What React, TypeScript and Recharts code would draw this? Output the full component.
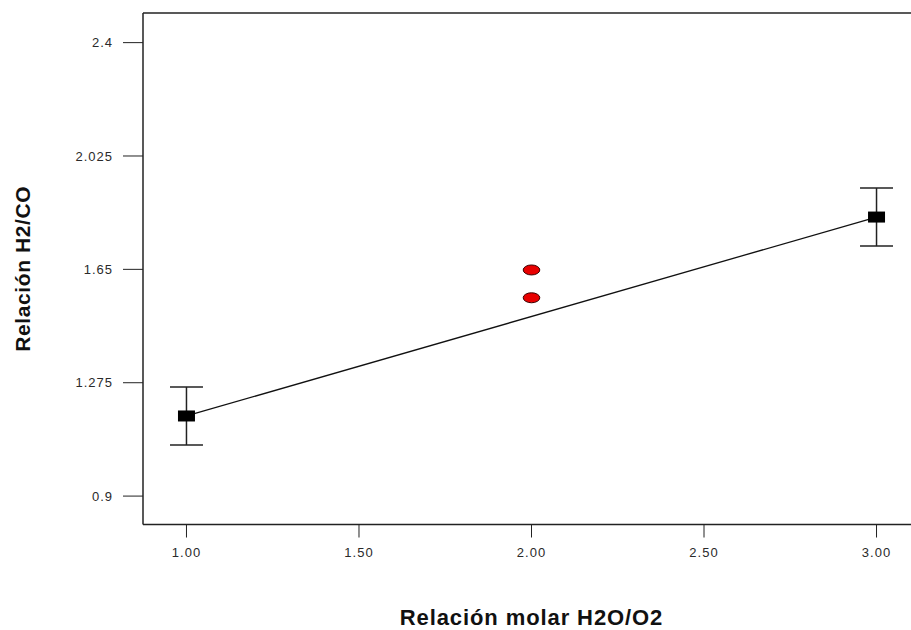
import React from 'react';
import {
  ComposedChart,
  XAxis,
  YAxis,
  Line,
  Scatter,
  ErrorBar,
  Label,
  ReferenceLine,
} from 'recharts';

// Molar ratio H2O/O2 levels and the fitted H2/CO response
const fitRatios = [1, 3];
const fitValues = [1.165, 1.823];
const fitErrors = [0.096, 0.096];

// Observed centre-point runs
const centreRatios = [2, 2];
const centreValues = [1.648, 1.556];

const xTicks = [1, 1.5, 2, 2.5, 3];
const yTicks = [0.9, 1.275, 1.65, 2.025, 2.4];

const xDomain: [number, number] = [0.874, 3.126];
const yDomain: [number, number] = [0.806, 2.498];

const fitData = fitRatios.map((x, i) => ({ x, y: fitValues[i], err: fitErrors[i] }));
const centreData = centreRatios.map((x, i) => ({ x, y: centreValues[i] }));

const FONT = '"Liberation Sans", Arial, sans-serif';
const tickStyle = { fontSize: 13, fill: '#2a2a2a', fontFamily: FONT, letterSpacing: 1 };

const SquareMarker = (props: any) => {
  const { cx, cy } = props;
  if (cx == null || cy == null) return null;
  return <rect x={cx - 8.5} y={cy - 5.5} width={17} height={11} fill="#000" />;
};

const EllipseMarker = (props: any) => {
  const { cx, cy } = props;
  if (cx == null || cy == null) return null;
  return <ellipse cx={cx} cy={cy} rx={8.3} ry={5} fill="#e80000" stroke="#3a0000" strokeWidth={1} />;
};

const XTitle = (props: any) => {
  const { viewBox } = props;
  const cx = viewBox.x + viewBox.width / 2;
  return (
    <text x={cx} y={625} textAnchor="middle" fontFamily={FONT} fontWeight="bold" fontSize={22} letterSpacing={0.9} fill="#111">
      Relación molar H2O/O2
    </text>
  );
};

const YTitle = (props: any) => {
  const { viewBox } = props;
  const cy = viewBox.y + viewBox.height / 2;
  return (
    <text
      x={30}
      y={cy}
      transform={`rotate(-90, 30, ${cy})`}
      textAnchor="middle"
      fontFamily={FONT}
      fontWeight="bold"
      fontSize={21}
      letterSpacing={0.6}
      fill="#111"
    >
      Relación H2/CO
    </text>
  );
};

export default function App() {
  return (
    <div style={{ position: 'absolute', left: 0, top: 0, width: 911, height: 630, overflow: 'hidden', background: '#fff' }}>
      <ComposedChart width={940} height={630} margin={{ top: 13, right: 20, bottom: 0, left: 0 }}>
        <XAxis
          type="number"
          dataKey="x"
          domain={xDomain}
          allowDataOverflow
          ticks={xTicks}
          tickFormatter={(v: number) => v.toFixed(2)}
          height={105.5}
          tickSize={13}
          tickMargin={10}
          tick={tickStyle}
          tickLine={{ stroke: '#222' }}
          axisLine={{ stroke: '#222', strokeWidth: 1.5 }}
        >
          <Label content={XTitle} />
        </XAxis>
        <YAxis
          type="number"
          dataKey="y"
          domain={yDomain}
          allowDataOverflow
          ticks={yTicks}
          tickFormatter={(v: number) => String(v)}
          width={143}
          tickSize={20}
          tickMargin={10}
          tick={tickStyle}
          tickLine={{ stroke: '#222' }}
          axisLine={{ stroke: '#222', strokeWidth: 1.5 }}
        >
          <Label content={YTitle} />
        </YAxis>
        {/* frame: top and right edges of the plot box */}
        <ReferenceLine y={yDomain[1]} stroke="#222" strokeWidth={1.5} ifOverflow="visible" />
        <ReferenceLine x={xDomain[1]} stroke="#222" strokeWidth={1.5} ifOverflow="visible" />
        <Line
          data={fitData}
          dataKey="y"
          type="linear"
          stroke="#111"
          strokeWidth={1.3}
          dot={false}
          activeDot={false}
          isAnimationActive={false}
        />
        <Scatter data={fitData} dataKey="y" shape={SquareMarker} isAnimationActive={false}>
          <ErrorBar dataKey="err" direction="y" width={16.5} stroke="#222" strokeWidth={1.5} />
        </Scatter>
        <Scatter data={centreData} dataKey="y" shape={EllipseMarker} isAnimationActive={false} />
      </ComposedChart>
    </div>
  );
}
